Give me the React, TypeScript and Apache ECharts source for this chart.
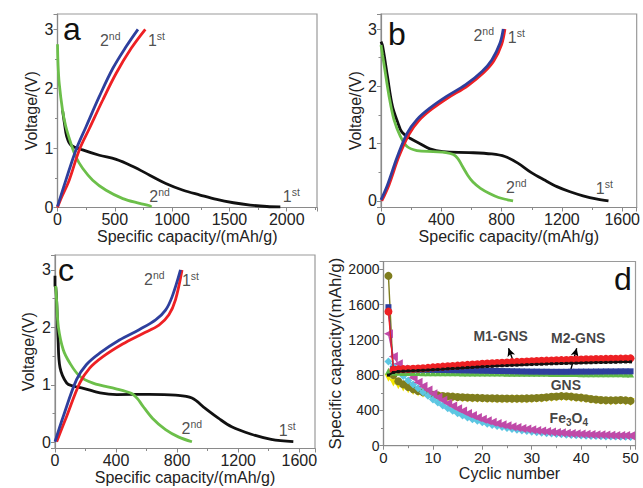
import React, { useEffect, useRef } from "react";
import * as echarts from "echarts";

const FONT = "'Liberation Sans', Arial, Helvetica, sans-serif";

// ---------- Panel a (capacity mAh/g, voltage V)
const aDischarge1st: number[][] = [[44, 1.64], [62, 1.4], [80, 1.2], [117, 1.05], [219, 0.97], [365, 0.88], [512, 0.81], [658, 0.69], [804, 0.545], [950, 0.4], [1096, 0.29], [1243, 0.21], [1389, 0.135], [1535, 0.08], [1681, 0.04], [1827, 0.017], [1944, 0.01]];
const aDischarge2nd: number[][] = [[0, 2.75], [5, 2.4], [15, 2.09], [44, 1.64], [73, 1.36], [117, 1.08], [161, 0.85], [219, 0.66], [307, 0.46], [424, 0.29], [570, 0.15], [716, 0.07], [804, 0.03], [819, 0.01]];
const aCharge1st: number[][] = [[0, 0], [30, 0.15], [102, 0.46], [190, 0.97], [278, 1.33], [395, 1.81], [512, 2.26], [643, 2.68], [766, 3.0]];
const aCharge2nd: number[][] = [[0, 0.02], [73, 0.46], [161, 0.97], [249, 1.36], [365, 1.87], [482, 2.34], [599, 2.71], [702, 3.0]];

// ---------- Panel b
const bDischarge1st: number[][] = [[0, 2.78], [11, 2.7], [43, 2.17], [76, 1.65], [110, 1.38], [139, 1.2], [195, 1.09], [259, 1.0], [324, 0.91], [411, 0.86], [584, 0.845], [735, 0.82], [822, 0.775], [908, 0.66], [995, 0.5], [1081, 0.37], [1167, 0.25], [1254, 0.16], [1340, 0.09], [1427, 0.035], [1509, 0.0]];
const bDischarge2nd: number[][] = [[0, 2.72], [10, 2.55], [22, 2.35], [54, 1.82], [86, 1.42], [130, 1.12], [173, 0.95], [238, 0.88], [346, 0.86], [432, 0.845], [480, 0.81], [510, 0.74], [541, 0.6], [575, 0.45], [610, 0.33], [660, 0.22], [720, 0.13], [780, 0.06], [840, 0.02], [876, 0.0]];
const bCharge1st: number[][] = [[5, 0.0], [53, 0.28], [118, 0.77], [185, 1.16], [250, 1.4], [336, 1.6], [445, 1.8], [575, 2.01], [682, 2.24], [748, 2.44], [800, 2.73], [822, 3.0]];
const bCharge2nd: number[][] = [[0, 0.02], [43, 0.28], [108, 0.77], [173, 1.18], [238, 1.42], [324, 1.62], [432, 1.82], [562, 2.03], [670, 2.26], [735, 2.46], [789, 2.75], [811, 3.0]];

// ---------- Panel c
const cDischarge1st: number[][] = [[0, 2.9], [0, 2.72], [5, 2.7], [11, 2.45], [16, 2.1], [20, 1.8], [33, 1.3], [77, 1.03], [120, 0.98], [186, 0.94], [295, 0.86], [405, 0.83], [616, 0.835], [789, 0.82], [897, 0.77], [984, 0.59], [1070, 0.42], [1157, 0.27], [1286, 0.14], [1416, 0.05], [1561, 0.01]];
const cDischarge2nd: number[][] = [[5, 2.72], [11, 2.45], [22, 2.01], [54, 1.61], [97, 1.38], [162, 1.15], [249, 1.03], [400, 0.93], [470, 0.88], [508, 0.84], [540, 0.76], [573, 0.64], [638, 0.42], [724, 0.22], [811, 0.09], [897, 0.01]];
const cCharge1st: number[][] = [[11, 0.01], [76, 0.45], [162, 1.03], [227, 1.29], [314, 1.49], [443, 1.71], [573, 1.89], [681, 2.04], [746, 2.22], [789, 2.48], [832, 3.0]];
const cCharge2nd: number[][] = [[0, 0.01], [54, 0.45], [141, 1.09], [205, 1.35], [292, 1.55], [422, 1.78], [551, 1.96], [659, 2.13], [724, 2.3], [768, 2.54], [822, 3.0]];

// ---------- Panel d (cycle number vs specific capacity)
const cycles: number[] = Array.from({ length: 50 }, (_, i) => i + 1);
const dRed: number[] = [1520, 860, 865, 868, 870, 872, 875, 878, 882, 888, 892, 896, 900, 904, 908, 912, 916, 920, 924, 928, 932, 935, 938, 941, 944, 947, 950, 952, 955, 958, 960, 962, 964, 966, 968, 970, 972, 974, 976, 977, 979, 980, 982, 983, 984, 985, 986, 987, 988, 990];
const dBlack: number[] = [800, 830, 840, 845, 848, 850, 852, 855, 858, 862, 865, 868, 872, 875, 878, 882, 885, 888, 892, 895, 898, 900, 903, 906, 908, 911, 913, 916, 918, 920, 922, 924, 926, 928, 930, 932, 933, 935, 936, 938, 939, 940, 942, 943, 944, 945, 946, 948, 949, 950];
const dBlue: number[] = [1570, 870, 868, 866, 865, 864, 863, 862, 861, 860, 859, 858, 857, 856, 855, 854, 853, 852, 851, 850, 849, 848, 847, 846, 845, 844, 843, 842, 841, 840, 840, 839, 839, 838, 838, 838, 838, 839, 839, 840, 840, 840, 841, 841, 842, 842, 842, 843, 843, 843];
const dGreen: number[] = [845, 835, 832, 830, 830, 829, 829, 828, 828, 828, 827, 827, 826, 826, 826, 825, 825, 825, 824, 824, 824, 823, 823, 823, 822, 822, 822, 821, 821, 821, 820, 820, 820, 819, 819, 819, 818, 818, 818, 817, 817, 817, 816, 816, 816, 815, 815, 815, 814, 814];
const dOlive: number[] = [1925, 800, 730, 695, 665, 640, 620, 605, 590, 578, 570, 564, 560, 556, 552, 549, 546, 544, 542, 540, 538, 537, 536, 535, 535, 534, 534, 535, 536, 537, 540, 544, 549, 554, 558, 562, 560, 556, 550, 545, 538, 530, 524, 518, 515, 514, 516, 518, 514, 508];
const dYellow: number[] = [770, 715, 685, 660, 640, 620, 602, 588, 576, 566, 558, 552, 547, 543, 540, 537, 534, 532, 530, 528, 527, 526, 525, 524, 524, 523, 523, 524, 525, 526, 528, 532, 537, 542, 546, 550, 548, 544, 538, 533, 526, 518, 512, 506, 503, 502, 504, 506, 502, 495];
const dMagenta: number[] = [1270, 1010, 930, 870, 820, 770, 720, 675, 630, 590, 550, 515, 480, 450, 420, 392, 366, 342, 320, 300, 282, 266, 251, 238, 226, 215, 205, 196, 188, 180, 173, 166, 160, 155, 150, 146, 142, 138, 135, 132, 129, 127, 125, 123, 121, 119, 117, 116, 115, 114];
const dCyan: number[] = [955, 900, 840, 790, 740, 695, 650, 605, 565, 525, 490, 455, 425, 395, 368, 343, 320, 300, 282, 265, 250, 236, 223, 211, 200, 190, 181, 173, 166, 159, 153, 147, 142, 137, 133, 129, 125, 122, 119, 116, 113, 111, 109, 107, 105, 104, 103, 102, 101, 100];

// ---------- annotations (data coordinates)
const ordinalNotes = [
  { panel: 0, x: 366, y: 2.82, num: "2", sup: "nd" },
  { panel: 0, x: 785, y: 2.82, num: "1", sup: "st" },
  { panel: 0, x: 797, y: 0.19, num: "2", sup: "nd" },
  { panel: 0, x: 1961, y: 0.18, num: "1", sup: "st" },
  { panel: 1, x: 610, y: 2.88, num: "2", sup: "nd" },
  { panel: 1, x: 838, y: 2.86, num: "1", sup: "st" },
  { panel: 1, x: 826, y: 0.236, num: "2", sup: "nd" },
  { panel: 1, x: 1422, y: 0.21, num: "1", sup: "st" },
  { panel: 2, x: 580, y: 2.83, num: "2", sup: "nd" },
  { panel: 2, x: 828, y: 2.81, num: "1", sup: "st" },
  { panel: 2, x: 826, y: 0.244, num: "2", sup: "nd" },
  { panel: 2, x: 1462, y: 0.2, num: "1", sup: "st" },
];
const dNotes = [
  { x: 23.7, y: 1244, text: "{n|M1-GNS}" },
  { x: 39.4, y: 1221, text: "{n|M2-GNS}" },
  { x: 36.9, y: 688, text: "{n|GNS}" },
  { x: 37.5, y: 314, text: "{n|Fe}{u|3}{n|O}{u|4}" },
];
const dArrows = [
  [[26.3, 953], [25.3, 1104]],
  [[37.8, 839], [39.1, 1104]],
];
const panelLetters = ["a", "b", "c", "d"];

const AX = "#8a8a8a";
const plain = (v: number) => String(v);

function xAxis(idx: number, max: number, interval: number, name: string, fs: number, nfs: number, gap: number) {
  return {
    type: "value", gridIndex: idx, min: 0, max, interval, name,
    nameLocation: "middle", nameGap: gap,
    nameTextStyle: { fontFamily: FONT, fontSize: nfs, color: "#222" },
    axisLine: { show: true, onZero: false, lineStyle: { color: AX, width: 1.2 } },
    axisTick: { show: true, inside: false, length: 4, lineStyle: { color: AX, width: 1 } },
    minorTick: { show: true, splitNumber: 2, length: 2.5, lineStyle: { color: AX, width: 1 } },
    splitLine: { show: false },
    axisLabel: { fontFamily: FONT, fontSize: fs, color: "#222", margin: 4, showMaxLabel: false, formatter: plain },
  };
}
function yAxis(idx: number, min: number, max: number, interval: number | undefined, name: string, fs: number, nfs: number, gap: number) {
  const ax: any = {
    type: "value", gridIndex: idx, min, max, name,
    nameLocation: "middle", nameGap: gap,
    nameTextStyle: { fontFamily: FONT, fontSize: nfs, color: "#222" },
    axisLine: { show: true, onZero: false, lineStyle: { color: AX, width: 1.2 } },
    axisTick: { show: true, inside: false, length: 4, lineStyle: { color: AX, width: 1 } },
    minorTick: { show: true, splitNumber: 2, length: 2.5, lineStyle: { color: AX, width: 1 } },
    splitLine: { show: false },
    axisLabel: { fontFamily: FONT, fontSize: fs, color: "#222", margin: 4, showMaxLabel: false, showMinLabel: min === 0, formatter: plain },
  };
  if (interval !== undefined) ax.interval = interval; else ax.splitNumber = 3;
  return ax;
}

function curve(idx: number, data: number[][], color: string, z: number) {
  return {
    type: "line", xAxisIndex: idx, yAxisIndex: idx, data, showSymbol: false, smooth: 0.35,
    lineStyle: { color, width: 2.8 }, itemStyle: { color }, z, silent: true,
  };
}

function cyc(values: number[], color: string, symbol: string, size: number, rotate: number, z: number, lw = 1.4) {
  return {
    type: "line", xAxisIndex: 3, yAxisIndex: 3,
    data: cycles.map((c, i) => [c, values[i]]),
    symbol, symbolSize: size, symbolRotate: rotate, showSymbol: true,
    lineStyle: { color, width: lw }, itemStyle: { color }, z, silent: true,
  };
}

const RICH = {
  b: { fontFamily: FONT, fontSize: 16, color: "#222", lineHeight: 20 },
  s: { fontFamily: FONT, fontSize: 10.5, color: "#222", lineHeight: 11, verticalAlign: "top" },
};
const RICH_D = {
  n: { fontFamily: FONT, fontSize: 14, fontWeight: "bold", color: "#111", lineHeight: 20 },
  u: { fontFamily: FONT, fontSize: 10, fontWeight: "bold", color: "#111", lineHeight: 10, verticalAlign: "bottom" },
};

export default function App() {
  const ref = useRef<HTMLDivElement>(null);
  useEffect(() => {
    if (!ref.current) return;
    const chart = echarts.init(ref.current, undefined, { renderer: "svg" });
    const BLACK = "#111111", GREEN = "#6cbf4a", RED = "#ee2024", BLUE = "#2e3f9d";
    const noteSeries = [0, 1, 2].map((p) => ({
      type: "scatter", xAxisIndex: p, yAxisIndex: p, symbol: "circle", symbolSize: 1,
      itemStyle: { color: "rgba(0,0,0,0)" }, z: 20, silent: true,
      data: ordinalNotes.filter((n) => n.panel === p).map((n) => ({
        value: [n.x, n.y],
        label: { show: true, position: "right", distance: 0, formatter: `{b|${n.num}}{s|${n.sup}}`, rich: RICH },
      })),
    }));
    const dNoteSeries = {
      type: "scatter", xAxisIndex: 3, yAxisIndex: 3, symbol: "circle", symbolSize: 1,
      itemStyle: { color: "rgba(0,0,0,0)" }, z: 20, silent: true,
      data: dNotes.map((n) => ({
        value: [n.x, n.y],
        label: { show: true, position: "inside", formatter: n.text, rich: RICH_D },
      })),
      markLine: {
        silent: true, symbol: ["none", "arrow"], symbolSize: [6, 8],
        lineStyle: { color: "#000", width: 1.4, type: "solid" }, label: { show: false },
        data: dArrows.map((a) => [{ coord: a[0] }, { coord: a[1] }]),
      },
    };
    const letterPos = [[63, 29], [388, 34], [58, 270], [614, 279]];
    const option: any = {
      animation: false,
      backgroundColor: "#ffffff",
      textStyle: { fontFamily: FONT },
      grid: [
        { left: 57.5, top: 14, width: 259.5, height: 193.5 },
        { left: 381, top: 14, width: 261.5, height: 193.5 },
        { left: 55, top: 255, width: 260, height: 193.5 },
        { left: 383.5, top: 261.5, width: 252, height: 184.2 },
      ].map((g) => ({ ...g, show: true, borderColor: "#9a9a9a", borderWidth: 1.2, backgroundColor: "transparent" })),
      xAxis: [
        xAxis(0, 2264, 500, "Specific capacity/(mAh/g)", 16, 16, 19),
        xAxis(1, 1696, 400, "Specific capacity/(mAh/g)", 16, 16, 19),
        xAxis(2, 1703, 400, "Specific capacity/(mAh/g)", 16, 16, 19),
        xAxis(3, 51, 10, "Cyclic number", 15, 16, 19),
      ],
      yAxis: [
        yAxis(0, 0, 3.258, 1, "Voltage/(V)", 16, 16, 18),
        yAxis(1, -0.114, 3.262, undefined, "Voltage/(V)", 16, 16, 18),
        yAxis(2, -0.108, 3.26, undefined, "Voltage/(V)", 16, 16, 19),
        yAxis(3, 0, 2088, 400, "Specific capacity/(mAh/g)", 14, 17, 36),
      ],
      graphic: panelLetters.map((t, i) => ({
        type: "text", x: letterPos[i][0], y: letterPos[i][1], z: 100,
        style: { text: t, fill: "#111", fontSize: 32, fontFamily: FONT, align: "left", verticalAlign: "middle" },
      })),
      series: [
        curve(0, aDischarge1st, BLACK, 2), curve(0, aDischarge2nd, GREEN, 3), curve(0, aCharge1st, RED, 4), curve(0, aCharge2nd, BLUE, 5),
        curve(1, bDischarge1st, BLACK, 2), curve(1, bDischarge2nd, GREEN, 3), curve(1, bCharge1st, RED, 4), curve(1, bCharge2nd, BLUE, 5),
        curve(2, cDischarge1st, BLACK, 2), curve(2, cDischarge2nd, GREEN, 3), curve(2, cCharge1st, RED, 4), curve(2, cCharge2nd, BLUE, 5),
        cyc(dYellow, "#f4e600", "triangle", 8, 180, 2),
        cyc(dOlive, "#7f7d1e", "circle", 8, 0, 3),
        cyc(dCyan, "#5cc6e2", "diamond", 8, 0, 4),
        cyc(dMagenta, "#c04aa8", "triangle", 9, 90, 5),
        cyc(dGreen, "#5fb946", "triangle", 7, 0, 6),
        cyc(dBlue, "#2e3f9d", "rect", 6, 0, 7),
        cyc(dRed, "#ee2024", "circle", 8, 0, 8),
        cyc(dBlack, "#111111", "rect", 3, 0, 9, 2),
        ...noteSeries,
        dNoteSeries,
      ],
    };
    chart.setOption(option);
    return () => chart.dispose();
  }, []);
  return <div ref={ref} style={{ position: "absolute", left: 0, top: 0, width: 643, height: 488 }} />;
}
